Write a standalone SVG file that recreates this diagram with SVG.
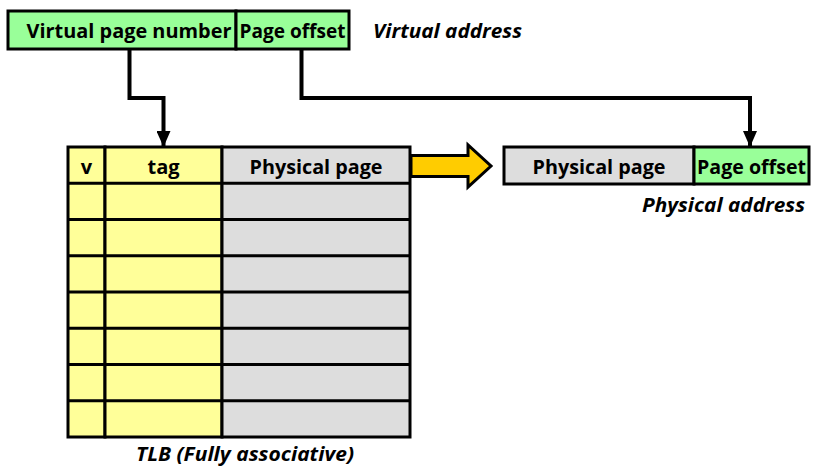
<svg xmlns="http://www.w3.org/2000/svg" width="815" height="468" viewBox="0 0 815 468">
<defs>
<style>
.t{font-family:"Open Sans","Liberation Sans",sans-serif;font-weight:bold;font-size:20px;fill:#000;text-anchor:middle}
.i{font-style:italic}
.b{stroke:#000;stroke-width:3}
.g{fill:#99FF99}
.y{fill:#FFFF99}
.gr{fill:#DDDDDD}
.c{fill:none;stroke:#000;stroke-width:4}
</style>
<marker id="ah" viewBox="0 0 16 14" refX="16" refY="7" markerWidth="16" markerHeight="14" markerUnits="userSpaceOnUse" orient="auto">
<path d="M0,0 L16,7 L0,14 z" fill="#000"/>
</marker>
</defs>
<g id="virtual-address">
<rect class="b g" x="8" y="11" width="228" height="38"/>
<rect class="b g" x="236" y="11" width="113" height="38"/>
<text class="t" x="129" y="38" textLength="205" lengthAdjust="spacingAndGlyphs">Virtual page number</text>
<text class="t" x="292.5" y="38" textLength="106" lengthAdjust="spacingAndGlyphs">Page offset</text>
<text class="t i" x="373" y="38" style="text-anchor:start" textLength="149" lengthAdjust="spacingAndGlyphs">Virtual address</text>
</g>
<g id="tlb">
<rect class="b y" x="68" y="147" width="37" height="290"/>
<rect class="b y" x="105" y="147" width="117" height="290"/>
<rect class="b gr" x="222" y="147" width="188" height="290"/>
<path class="b" d="M68,183.25H410M68,219.5H410M68,255.75H410M68,292H410M68,328.25H410M68,364.5H410M68,400.75H410"/>
<text class="t" x="86.5" y="174">v</text>
<text class="t" x="163.5" y="174">tag</text>
<text class="t" x="316" y="174" textLength="133" lengthAdjust="spacingAndGlyphs">Physical page</text>
<text class="t i" x="245" y="461" style="font-size:19px" textLength="218" lengthAdjust="spacingAndGlyphs">TLB (Fully associative)</text>
</g>
<g id="physical-address">
<rect class="b gr" x="504" y="147" width="190" height="37"/>
<rect class="b g" x="694" y="147" width="115" height="37"/>
<text class="t" x="599" y="174" textLength="133" lengthAdjust="spacingAndGlyphs">Physical page</text>
<text class="t" x="751.5" y="174" textLength="109" lengthAdjust="spacingAndGlyphs">Page offset</text>
<text class="t i" x="805" y="212" style="text-anchor:end" textLength="163" lengthAdjust="spacingAndGlyphs">Physical address</text>
</g>
<g id="connectors">
<path class="c" d="M129.5,49V98H163.5V147" marker-end="url(#ah)"/>
<path class="c" d="M301.5,49V98H750V147" marker-end="url(#ah)"/>
<path d="M411,155.5H468V145L491,166L468,187V176.5H411Z" fill="#FFCC00" stroke="#000" stroke-width="3" stroke-linejoin="miter"/>
</g>
</svg>
